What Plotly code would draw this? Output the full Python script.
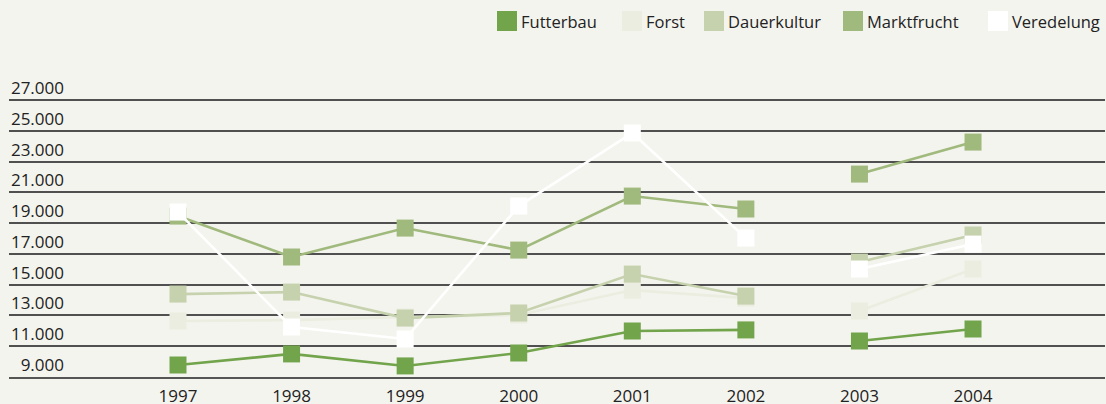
import plotly.graph_objects as go

years = [1997, 1998, 1999, 2000, 2001, 2002, 2003, 2004]
series_names = ["Futterbau", "Forst", "Dauerkultur", "Marktfrucht", "Veredelung"]
futterbau = [9780, 10500, 9720, 10560, 11990, 12060, 11340, 12120]
forst = [12640, 12700, 12900, 13030, 14650, 14130, 13290, 16020]
dauerkultur = [14390, 14520, 12830, 13160, 15690, 14260, 16470, 18230]
marktfrucht = [19460, 16800, 18680, 17250, 20760, 19920, 22190, 24270]
veredelung = [19720, 12250, 11470, 20110, 24860, 18030, 16020, 17640]
y_ticks = [9000, 11000, 13000, 15000, 17000, 19000, 21000, 23000, 25000, 27000]
y_tick_labels = ["9.000", "11.000", "13.000", "15.000", "17.000", "19.000",
                 "21.000", "23.000", "25.000", "27.000"]
year_labels = [str(y) for y in years]

colors = ["#72a44c", "#eaeddf", "#c6d1ad", "#a0b97c", "#ffffff"]
values = [futterbau, forst, dauerkultur, marktfrucht, veredelung]

W, H = 1106, 404
ML, MR, MT, MB = 9, 1, 97, 27
PW = W - ML - MR
PH = H - MT - MB


def gap(v):
    # 2002 and 2003 are not connected in the original chart
    return list(v[:6]) + [None] + list(v[6:])


fig = go.Figure()
for name, col, vals in zip(series_names, colors, values):
    fig.add_trace(go.Scatter(
        x=gap(years), y=gap(vals), name=name, mode="lines+markers",
        line=dict(color=col, width=2.6),
        marker=dict(symbol="square", size=17, color=col, line=dict(width=0)),
        showlegend=False, cliponaxis=False,
    ))

# carrier for the tick-label axis
fig.add_trace(go.Scatter(x=[None], y=[None], yaxis="y2", showlegend=False,
                         hoverinfo="skip"))


def px_x(p):
    return (p - ML) / PW


def px_y(p):
    return (H - MB - p) / PH


# manual legend (swatch + label)
sw_left = [497, 622, 704, 843, 988]
shapes = []
annotations = []
for name, col, xl in zip(series_names, colors, sw_left):
    shapes.append(dict(type="rect", xref="paper", yref="paper",
                       x0=px_x(xl), x1=px_x(xl + 20), y0=px_y(31), y1=px_y(11),
                       fillcolor=col, line=dict(width=0)))
    annotations.append(dict(xref="paper", yref="paper", x=px_x(xl + 22), y=px_y(21),
                            text=name, showarrow=False, xanchor="left",
                            yanchor="middle",
                            font=dict(size=16.5, color="#222222", family="Open Sans")))

fig.update_layout(
    width=W, height=H,
    margin=dict(l=ML, r=MR, t=MT, b=MB, pad=0),
    paper_bgcolor="#f4f4ee", plot_bgcolor="#f4f4ee",
    font=dict(family="Open Sans", size=17, color="#222222"),
    xaxis=dict(range=[1995.512, 2005.162], tickvals=years, ticktext=year_labels,
               showgrid=False, zeroline=False, showline=True, linecolor="#555555",
               linewidth=2, ticks="", ticklabelstandoff=3, tickfont=dict(size=17),
               automargin=False),
    yaxis=dict(range=[9000, 27200], tickvals=y_ticks, showticklabels=False,
               showgrid=True, gridcolor="#505050", gridwidth=1.5, zeroline=False,
               ticks="", automargin=False),
    yaxis2=dict(range=[9000, 27200], overlaying="y", anchor="free",
                position=px_x(64), side="left", tickvals=y_ticks,
                ticktext=y_tick_labels, showgrid=False, zeroline=False,
                showline=False, ticks="", ticklabelshift=-12, ticklabelstandoff=0,
                tickfont=dict(size=17), automargin=False),
    shapes=shapes, annotations=annotations, showlegend=False,
)

fig.write_html("out.html", config={"displayModeBar": False},
               post_script="document.body.style.margin='0';")
